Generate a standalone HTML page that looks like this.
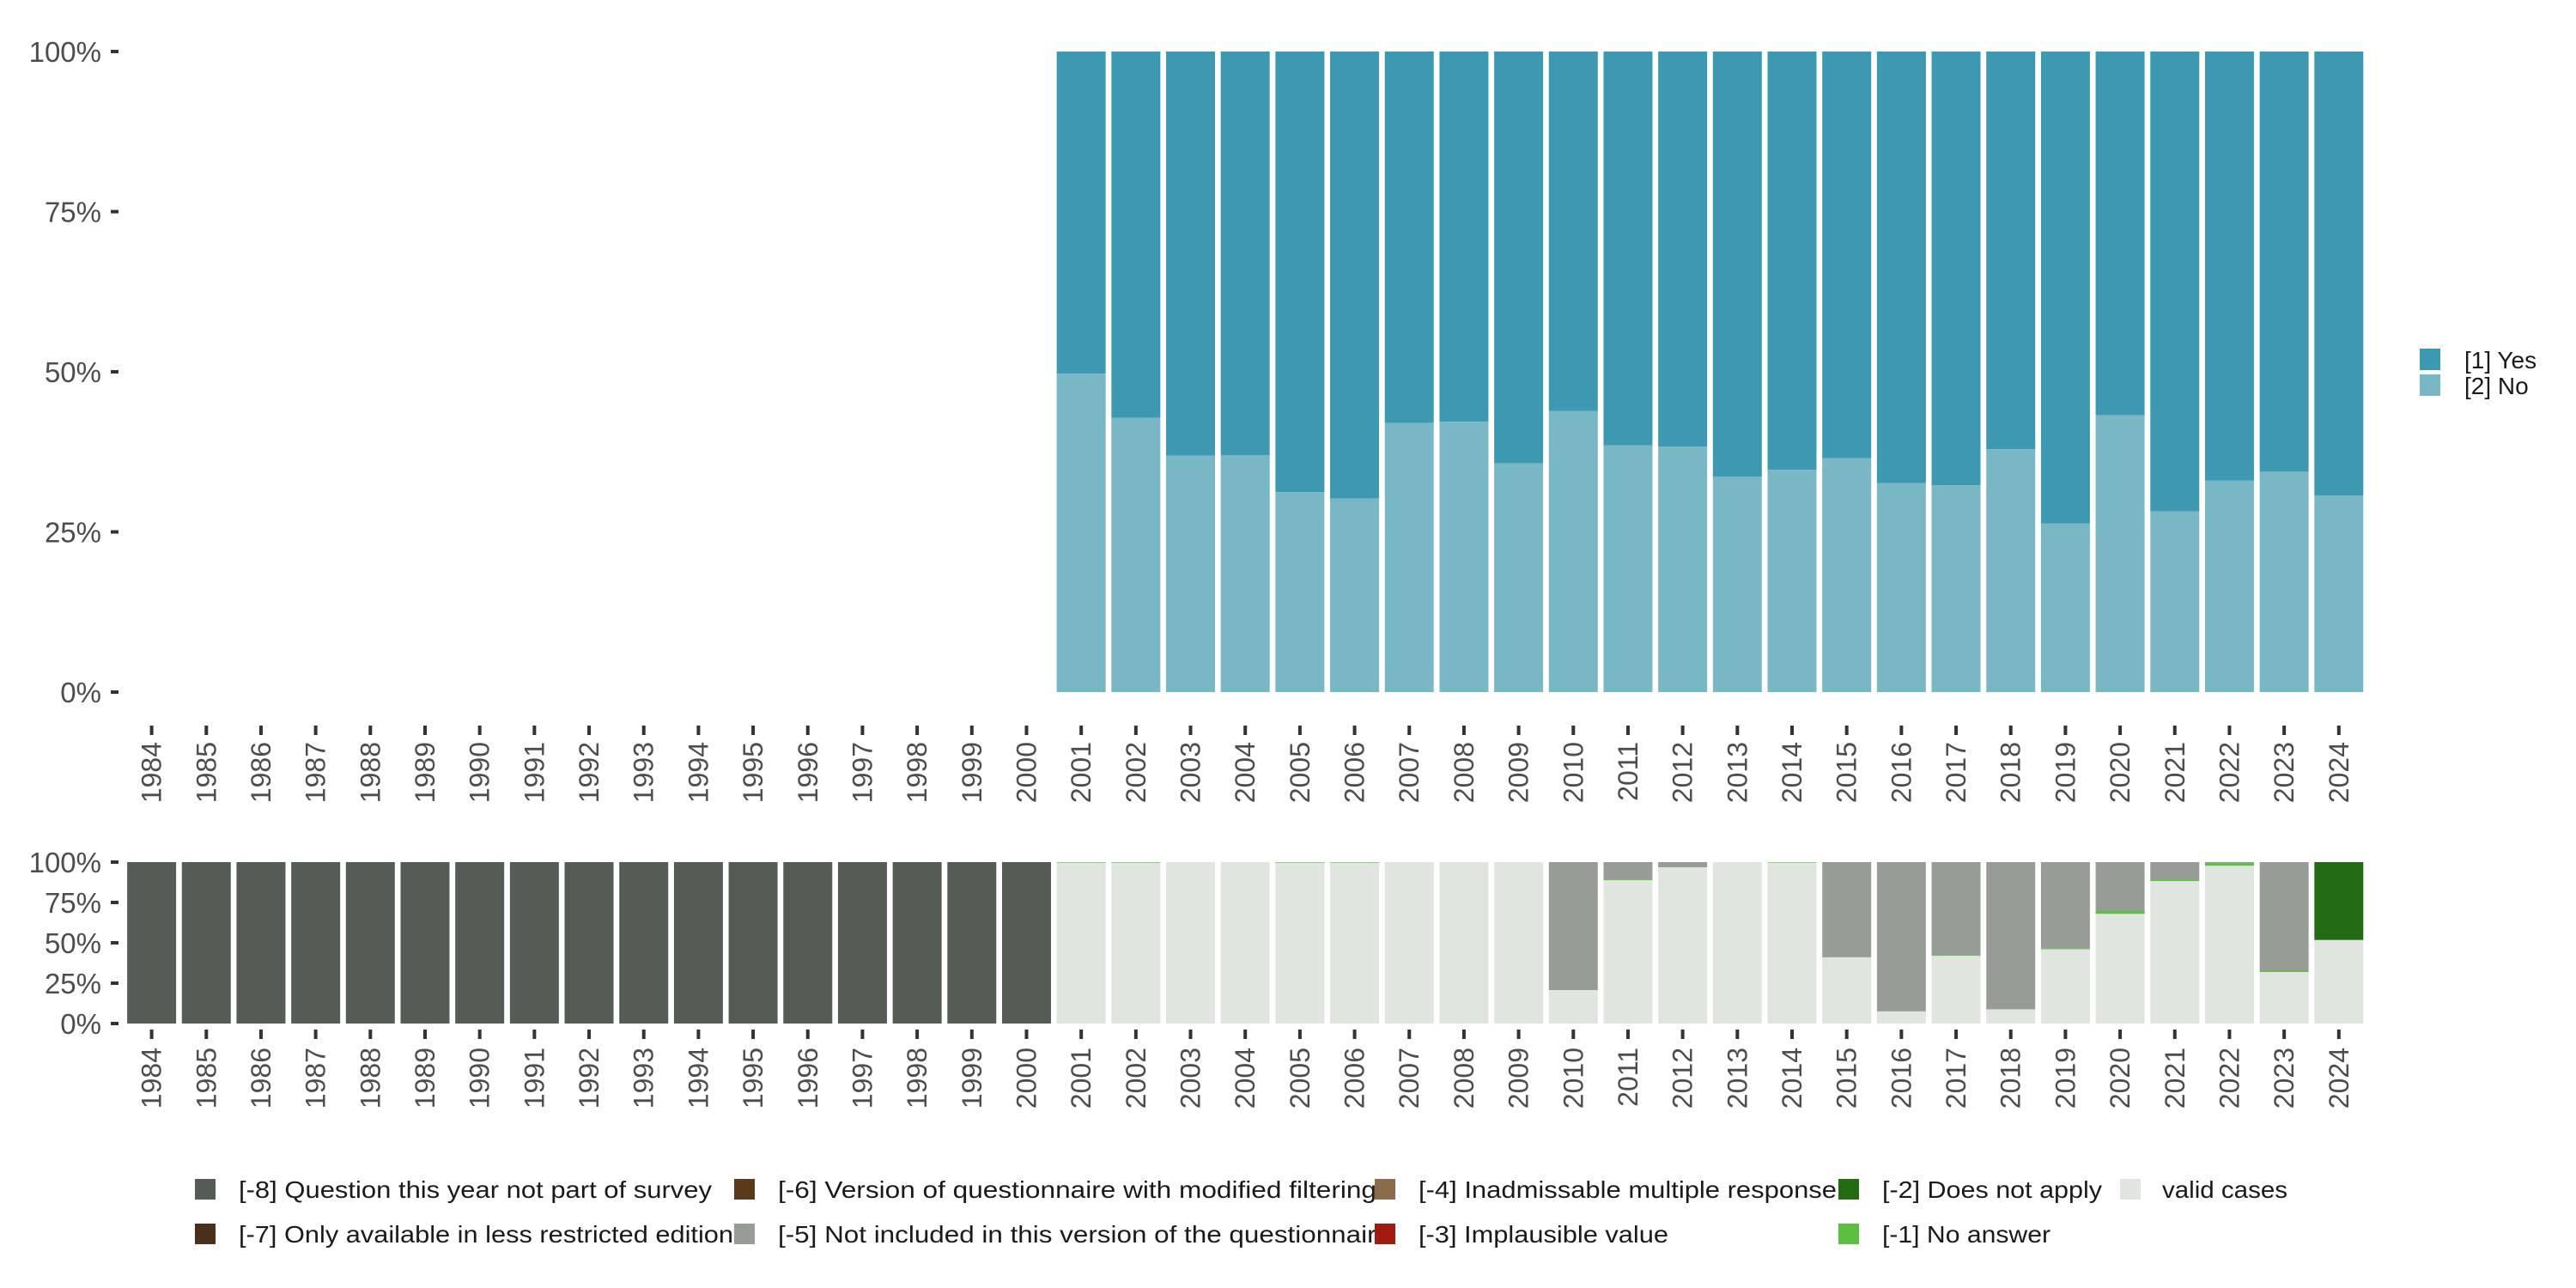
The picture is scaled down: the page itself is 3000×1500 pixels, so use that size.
<!DOCTYPE html>
<html><head><meta charset="utf-8"><style>
html,body{margin:0;padding:0;background:#fff;}
svg{display:block;font-family:"Liberation Sans",sans-serif;}
</style></head><body>
<svg id="chart" width="3000" height="1500" viewBox="0 0 3000 1500" xmlns="http://www.w3.org/2000/svg">
<g id="topPanel"></g>
<g id="bottomPanel"></g>
<g id="legend-right">
 <rect x="2818" y="406" width="24" height="25" fill="#3c99b1"/>
 <text x="2870" y="429" font-size="28" fill="#1a1a1a">[1] Yes</text>
 <rect x="2818" y="436" width="24" height="25" fill="#79b7c5"/>
 <text x="2870" y="459" font-size="28" fill="#1a1a1a">[2] No</text>
</g>
<g id="legendBottom"></g>
</svg>
<script>
const years = [];
for (let y = 1984; y <= 2024; y++) years.push(y);
const yTicks = [0, 25, 50, 75, 100];
const tickLabels = ["0%", "25%", "50%", "75%", "100%"];
// top panel: share of "No" (%) for 2001-2024; Yes = 100 - No
const responseYears = [2001,2002,2003,2004,2005,2006,2007,2008,2009,2010,2011,2012,2013,2014,2015,2016,2017,2018,2019,2020,2021,2022,2023,2024];
const noShare = [49.7,42.8,36.9,37.0,31.2,30.2,42.0,42.2,35.7,43.9,38.5,38.3,33.6,34.7,36.5,32.6,32.3,37.9,26.3,43.2,28.2,33.0,34.4,30.7];
// bottom panel: missing categories (% per year, 1984-2024)
const miss8 = [100,100,100,100,100,100,100,100,100,100,100,100,100,100,100,100,100,0,0,0,0,0,0,0,0,0,0,0,0,0,0,0,0,0,0,0,0,0,0,0,0];
const miss5 = [0,0,0,0,0,0,0,0,0,0,0,0,0,0,0,0,0,0,0,0,0,0,0,0,0,0,79.3,10.7,3.2,0,0,59,92.5,57.5,91.2,53.6,30.3,10.7,0.6,67.3,0];
const miss2 = [0,0,0,0,0,0,0,0,0,0,0,0,0,0,0,0,0,0,0,0,0,0,0,0,0,0,0,0,0,0,0,0,0,0,0,0,0,0,0,0,48.3];
const miss1 = [0,0,0,0,0,0,0,0,0,0,0,0,0,0,0,0,0,0.4,0.4,0,0,0.4,0.4,0,0,0,0,0.6,0,0,0.4,0,0,0.6,0,0.4,1.8,1.1,1.7,0.8,0];

const NS = "http://www.w3.org/2000/svg";
function mk(parent, tag, attrs, text) {
  const e = document.createElementNS(NS, tag);
  for (const k in attrs) e.setAttribute(k, attrs[k]);
  if (text !== undefined) e.textContent = text;
  parent.appendChild(e);
  return e;
}
const x0 = 176.6, pitch = 63.68, barW = 57;
function xScale(yr) { return x0 + (yr - 1984) * pitch; }
function yTop(v) { return 806 - v / 100 * 746; }
function yBot(v) { return 1192 - v / 100 * 188; }

function axes(g, yS, tickY, labelY, fs, prefix) {
  yTicks.forEach((t, i) => {
    const y = yS(t);
    const tk = mk(g, "rect", {x: 129, y: y - 2, width: 9, height: 4, fill: "#333"});
    
    
    const lb = mk(g, "text", {x: 118, y: y + fs * 0.36, "font-size": fs, "text-anchor": "end", fill: "#4d4d4d"}, tickLabels[i]);
    
    
  });
  years.forEach(yr => {
    const x = xScale(yr);
    const tk = mk(g, "rect", {x: x - 2, y: tickY, width: 4, height: 11, fill: "#333"});
    
    
    const lb = mk(g, "text", {x: 0, y: 0, "font-size": 32, "text-anchor": "end", fill: "#4d4d4d",
      transform: "translate(" + (x + 11) + "," + labelY + ") rotate(-90)"}, String(yr));
    
    
  });
}

const topG = document.getElementById("topPanel");
responseYears.forEach((yr, i) => {
  const x = xScale(yr) - barW / 2;
  const no = noShare[i];
  const r1 = mk(topG, "rect", {x: x, y: yTop(100), width: barW, height: yTop(no) - yTop(100), fill: "#3c99b1"});
  
  
  const r2 = mk(topG, "rect", {x: x, y: yTop(no), width: barW, height: yTop(0) - yTop(no), fill: "#79b7c5"});
  
  
});
axes(topG, yTop, 845, 864, 33, "top");

const botG = document.getElementById("bottomPanel");
years.forEach((yr, i) => {
  const x = xScale(yr) - barW / 2;
  const segs = [["m8", miss8[i], "#555c55"], ["m5", miss5[i], "#989c96"], ["m2", miss2[i], "#236b12"], ["m1", miss1[i], "#5bbf3f"]];
  let cum = 100;
  segs.forEach(s => {
    if (s[1] <= 0) return;
    const r = mk(botG, "rect", {x: x, y: yBot(cum), width: barW, height: yBot(cum - s[1]) - yBot(cum), fill: s[2]});
    
    
    cum -= s[1];
  });
  if (cum > 0) {
    const r = mk(botG, "rect", {x: x, y: yBot(cum), width: barW, height: yBot(0) - yBot(cum), fill: "#e0e5e0"});
    
    
  }
});
axes(botG, yBot, 1199, 1220, 33, "bottom");

const legG = document.getElementById("legendBottom");
const legItems = [
  [227, 1385, "#555c55", "[-8] Question this year not part of survey", 551],
  [227, 1437, "#4a2f1a", "[-7] Only available in less restricted edition", 576],
  [855, 1385, "#5a3a1a", "[-6] Version of questionnaire with modified filtering", 697],
  [855, 1437, "#989c96", "[-5] Not included in this version of the questionnaire", 714],
  [1601, 1385, "#8b6b4a", "[-4] Inadmissable multiple response", 487],
  [1601, 1437, "#a01a10", "[-3] Implausible value", 291],
  [2141, 1385, "#236b12", "[-2] Does not apply", 256],
  [2141, 1437, "#5bbf3f", "[-1] No answer", 196],
  [2469, 1385, "#e0e5e0", "valid cases", 146]
];
legItems.forEach(it => {
  const k = mk(legG, "rect", {x: it[0], y: it[1] - 12, width: 24, height: 24, fill: it[2]});
  
  
  const tx = it[4] === 146 ? it[0] + 49 : it[0] + 51;
  const t = mk(legG, "text", {x: tx, y: it[1] + 10, "font-size": 28, fill: "#1a1a1a", textLength: it[4], lengthAdjust: "spacingAndGlyphs"}, it[3]);
  
  
});
</script>
</body></html>
